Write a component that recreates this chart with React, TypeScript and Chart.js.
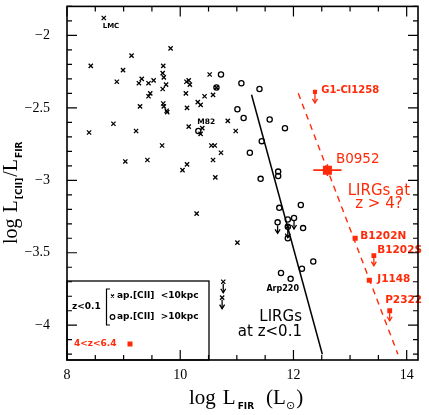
import React, { useEffect, useRef } from 'react';
import { Chart, registerables } from 'chart.js';
Chart.register(...registerables);

// ---------- data ----------
const X_MIN = 8;
const X_MAX = 14.2;
const Y_MIN = -4.24;
const Y_MAX = -1.8;

// local galaxies, aperture < 10 kpc (crosses)
const crossPts: number[][] = [
  [8.65, -1.88], [8.42, -2.21], [8.39, -2.67], [9.14, -2.14], [9.83, -2.09],
  [8.99, -2.24], [8.88, -2.32], [8.82, -2.61], [9.03, -2.87], [9.22, -2.66],
  [9.42, -2.86], [9.29, -2.49], [9.27, -2.33], [9.32, -2.30], [9.44, -2.33],
  [9.53, -2.31], [9.44, -2.42], [9.47, -2.40], [9.70, -2.21], [9.69, -2.26],
  [9.71, -2.29], [9.75, -2.34], [9.69, -2.37], [9.70, -2.47], [9.71, -2.49],
  [9.76, -2.52], [9.77, -2.53], [9.68, -2.76], [10.10, -2.40], [10.12, -2.50],
  [10.11, -2.32], [10.15, -2.31], [10.17, -2.34], [10.15, -2.63], [10.04, -2.93],
  [10.12, -2.89], [10.31, -2.46], [10.36, -2.48], [10.43, -2.42], [10.52, -2.27],
  [10.39, -2.64], [10.36, -2.68], [10.55, -2.76], [10.61, -2.76], [10.72, -2.81],
  [10.58, -2.86], [10.62, -2.98], [10.58, -2.41], [10.84, -2.59], [10.98, -2.66],
  [10.64, -2.36], [11.01, -3.43], [10.29, -3.23], [11.90, -3.32],
];
const crossLimitPts: number[][] = [[10.76, -3.70], [10.74, -3.81]];

// local galaxies, aperture > 10 kpc (circles)
const circlePts: number[][] = [
  [10.72, -2.27], [10.64, -2.36], [11.08, -2.33], [11.40, -2.37], [11.01, -2.51],
  [11.12, -2.57], [11.58, -2.58], [10.32, -2.66], [11.85, -2.64], [11.44, -2.73],
  [11.23, -2.81], [11.42, -2.99], [11.73, -2.94], [11.73, -2.97], [12.13, -3.17],
  [11.75, -3.19], [11.90, -3.27], [11.90, -3.40], [12.17, -3.33], [12.35, -3.56],
  [12.15, -3.61], [11.78, -3.64], [11.95, -3.68],
];
const circleLimitPts: number[][] = [[11.72, -3.29], [12.01, -3.26], [11.90, -3.32]];

// high-z sources (4 < z < 6.4)
const highZPts: number[][] = [[13.09, -3.40], [13.34, -3.69]];
const highZLimitPts: number[][] = [[13.42, -3.52], [13.70, -3.90]];
const g1Pt: number[][] = [[12.38, -2.39]];
const b0952Pt: number[][] = [[12.60, -2.93]];
const b0952XErr = 0.25;
const b0952YErr = 0.04;

// fitted relations
const lowZFit: number[][] = [[11.26, -2.41], [12.51, -4.20]];
const highZFit: number[][] = [[12.085, -2.40], [13.845, -4.20]];

const xTickValues = [8, 10, 12, 14];
const yTickValues = [-4, -3.5, -3, -2.5, -2];

const RED = 'rgb(255,42,8)';

const pts = (a: number[][]) => a.map(([x, y]) => ({ x, y }));

// annotation labels (data-anchored)
const annotations = [
  { text: 'LMC', x: 8.63, y: -1.936, font: 'bold 7px "DejaVu Sans"', color: '#000', align: 'left' },
  { text: 'M82', x: 10.30, y: -2.597, font: 'bold 7.5px "DejaVu Sans"', color: '#000', align: 'left' },
  { text: 'Arp220', x: 11.81, y: -3.75, font: 'bold 8px "DejaVu Sans"', color: '#000', align: 'center' },
  { text: 'G1-Cl1258', x: 12.49, y: -2.382, font: 'bold 10px "DejaVu Sans"', color: RED, align: 'left' },
  { text: 'B0952', x: 12.75, y: -2.854, font: '13.5px "DejaVu Sans"', color: RED, align: 'left' },
  { text: 'LIRGs at', x: 13.51, y: -3.075, font: '15px "DejaVu Sans"', color: RED, align: 'center' },
  { text: 'z > 4?', x: 13.51, y: -3.165, font: '15px "DejaVu Sans"', color: RED, align: 'center' },
  { text: 'B1202N', x: 13.18, y: -3.384, font: 'bold 10.5px "DejaVu Sans"', color: RED, align: 'left' },
  { text: 'B1202S', x: 13.48, y: -3.48, font: 'bold 10.5px "DejaVu Sans"', color: RED, align: 'left' },
  { text: 'J1148', x: 13.48, y: -3.68, font: 'bold 10.5px "DejaVu Sans"', color: RED, align: 'left' },
  { text: 'P2322', x: 13.62, y: -3.826, font: 'bold 10.5px "DejaVu Sans"', color: RED, align: 'left' },
  { text: 'LIRGs', x: 12.15, y: -3.945, font: '15px "DejaVu Sans"', color: '#000', align: 'right' },
  { text: 'at z<0.1', x: 12.15, y: -4.048, font: '15px "DejaVu Sans"', color: '#000', align: 'right' },
];

// ---------- helpers ----------
function arrowDown(ctx: CanvasRenderingContext2D, x: number, y0: number, y1: number) {
  ctx.beginPath();
  ctx.moveTo(x, y0);
  ctx.lineTo(x, y1);
  ctx.stroke();
  ctx.beginPath();
  ctx.moveTo(x - 2.5, y1 - 4);
  ctx.lineTo(x, y1);
  ctx.lineTo(x + 2.5, y1 - 4);
  ctx.stroke();
}

type Seg = { t: string; font: string; dy?: number; gap?: number };
function drawSegs(ctx: CanvasRenderingContext2D, segs: Seg[], x0: number, y0: number) {
  let x = x0;
  for (const s of segs) {
    x += s.gap || 0;
    ctx.font = s.font;
    ctx.fillText(s.t, x, y0 + (s.dy || 0));
    x += ctx.measureText(s.t).width;
  }
}

const decorPlugin = {
  id: 'decor',
  afterDatasetsDraw(chart: any) {
    const ctx: CanvasRenderingContext2D = chart.ctx;
    const { left, right, top, bottom } = chart.chartArea;
    const xs = chart.scales.x;
    const ys = chart.scales.y;
    ctx.save();

    // upper-limit arrows
    chart.data.datasets.forEach((ds: any, i: number) => {
      if (!ds.upperLimit) return;
      const meta = chart.getDatasetMeta(i);
      ctx.strokeStyle = ds.borderColor;
      ctx.lineWidth = 1.3;
      meta.data.forEach((el: any) => {
        arrowDown(ctx, el.x, el.y + ds.arrowStart, el.y + ds.arrowStart + ds.arrowLen);
      });
    });

    // error bars for B0952
    const bx = b0952Pt[0][0], by = b0952Pt[0][1];
    ctx.strokeStyle = RED;
    ctx.lineWidth = 1.6;
    ctx.beginPath();
    ctx.moveTo(xs.getPixelForValue(bx - b0952XErr), ys.getPixelForValue(by));
    ctx.lineTo(xs.getPixelForValue(bx + b0952XErr), ys.getPixelForValue(by));
    ctx.moveTo(xs.getPixelForValue(bx), ys.getPixelForValue(by - b0952YErr));
    ctx.lineTo(xs.getPixelForValue(bx), ys.getPixelForValue(by + b0952YErr));
    ctx.stroke();

    // annotations
    ctx.textBaseline = 'middle';
    for (const a of annotations) {
      ctx.font = a.font;
      ctx.fillStyle = a.color;
      ctx.textAlign = a.align as CanvasTextAlign;
      ctx.fillText(a.text, xs.getPixelForValue(a.x), ys.getPixelForValue(a.y));
    }

    // legend box
    const lbTop = 281, lbRight = 209;
    ctx.strokeStyle = '#000';
    ctx.lineWidth = 1.3;
    ctx.strokeRect(left, lbTop, lbRight - left, bottom - lbTop);
    ctx.fillStyle = '#000';
    ctx.textAlign = 'left';
    ctx.font = 'bold 9px "DejaVu Sans"';
    ctx.fillText('z<0.1', left + 5, 307);
    ctx.lineWidth = 1.2;
    ctx.beginPath();
    ctx.moveTo(110, 289);
    ctx.lineTo(106.5, 289);
    ctx.lineTo(106.5, 325);
    ctx.lineTo(110, 325);
    ctx.stroke();
    ctx.beginPath();
    ctx.moveTo(111, 294.5); ctx.lineTo(114, 297.5);
    ctx.moveTo(114, 294.5); ctx.lineTo(111, 297.5);
    ctx.stroke();
    ctx.fillText('ap.[CII]  <10kpc', 117, 296);
    ctx.beginPath();
    ctx.arc(112.5, 317, 2.3, 0, Math.PI * 2);
    ctx.stroke();
    ctx.fillText('ap.[CII]  >10kpc', 117, 317);
    ctx.fillStyle = RED;
    ctx.fillText('4<z<6.4', 74, 344);
    ctx.fillRect(127.5, 341.5, 5, 5);

    // ticks (inside) on all four sides
    ctx.strokeStyle = '#000';
    ctx.lineWidth = 1.2;
    ctx.beginPath();
    for (let k = 0; k <= 12; k++) {
      const v = X_MIN + k * 0.5;
      if (v > X_MAX + 1e-9) break;
      const px = xs.getPixelForValue(v);
      const len = k % 4 === 0 ? 10 : 5;
      ctx.moveTo(px, bottom); ctx.lineTo(px, bottom - len);
      ctx.moveTo(px, top); ctx.lineTo(px, top + len);
    }
    for (let k = -42; k <= -18; k++) {
      const v = k / 10;
      const py = ys.getPixelForValue(v);
      const len = k % 5 === 0 ? 10 : 5;
      ctx.moveTo(left, py); ctx.lineTo(left + len, py);
      ctx.moveTo(right, py); ctx.lineTo(right - len, py);
    }
    ctx.stroke();

    // frame
    ctx.lineWidth = 1.6;
    ctx.strokeRect(left, top, right - left, bottom - top);

    // axis titles
    ctx.fillStyle = '#000';
    ctx.textAlign = 'left';
    ctx.textBaseline = 'alphabetic';
    const serif = '21px "Liberation Serif"';
    const sub = 'bold 9px "DejaVu Sans"';
    drawSegs(ctx, [
      { t: 'log', font: serif },
      { t: 'L', font: serif, gap: 7 },
      { t: 'FIR', font: sub, dy: 5, gap: 2 },
      { t: '(L', font: serif, gap: 12 },
      { t: '⊙', font: '11px "DejaVu Sans"', dy: 5, gap: 0 },
      { t: ')', font: serif, gap: 1 },
    ], 189, 404);

    ctx.save();
    ctx.translate(17, 244);
    ctx.rotate(-Math.PI / 2);
    drawSegs(ctx, [
      { t: 'log', font: '20px "Liberation Serif"' },
      { t: 'L', font: '20px "Liberation Serif"', gap: 6 },
      { t: '[CII]', font: 'bold 9px "DejaVu Sans"', dy: 5, gap: 1 },
      { t: '/L', font: '20px "Liberation Serif"', gap: 1 },
      { t: 'FIR', font: sub, dy: 5, gap: 1 },
    ], 0, 0);
    ctx.restore();

    ctx.restore();
  },
};

export default function App() {
  const ref = useRef<HTMLCanvasElement>(null);
  useEffect(() => {
    const canvas = ref.current;
    if (!canvas) return;
    const chart = new Chart(canvas, {
      type: 'scatter',
      data: {
        datasets: [
          {
            data: pts(crossPts), pointStyle: 'crossRot', pointRadius: 3, borderColor: '#000',
            backgroundColor: '#000', pointBorderWidth: 1.3,
          },
          {
            data: pts(crossLimitPts), pointStyle: 'crossRot', pointRadius: 3, borderColor: '#000',
            backgroundColor: '#000', pointBorderWidth: 1.3,
            upperLimit: true, arrowStart: 2, arrowLen: 9,
          } as any,
          {
            data: pts(circlePts), pointStyle: 'circle', pointRadius: 2.6, borderColor: '#000',
            backgroundColor: 'rgba(0,0,0,0)', pointBorderWidth: 1.3,
          },
          {
            data: pts(circleLimitPts), pointStyle: 'circle', pointRadius: 2.6, borderColor: '#000',
            backgroundColor: 'rgba(0,0,0,0)', pointBorderWidth: 1.3,
            upperLimit: true, arrowStart: 3, arrowLen: 8,
          } as any,
          {
            data: pts(highZPts), pointStyle: 'rect', pointRadius: 3.6, borderColor: RED,
            backgroundColor: RED, pointBorderWidth: 0,
          },
          {
            data: pts(highZLimitPts), pointStyle: 'rect', pointRadius: 3.4, borderColor: RED,
            backgroundColor: RED, pointBorderWidth: 0,
            upperLimit: true, arrowStart: 0, arrowLen: 10,
          } as any,
          {
            data: pts(g1Pt), pointStyle: 'rect', pointRadius: 2.9, borderColor: RED,
            backgroundColor: RED, pointBorderWidth: 0,
            upperLimit: true, arrowStart: 0, arrowLen: 11,
          } as any,
          {
            data: pts(b0952Pt), pointStyle: 'rect', pointRadius: 6.4, borderColor: RED,
            backgroundColor: RED, pointBorderWidth: 0,
          },
          {
            type: 'line', data: pts(lowZFit), showLine: true, borderColor: '#000',
            borderWidth: 1.5, pointRadius: 0, fill: false,
          } as any,
          {
            type: 'line', data: pts(highZFit), showLine: true, borderColor: RED,
            borderWidth: 1.4, borderDash: [6, 5], pointRadius: 0, fill: false,
          } as any,
        ],
      },
      options: {
        responsive: false,
        animation: false,
        events: [],
        layout: { padding: { top: 4, right: 11, left: 0, bottom: 0 } },
        plugins: { legend: { display: false }, tooltip: { enabled: false } },
        scales: {
          x: {
            type: 'linear', min: X_MIN, max: X_MAX, position: 'bottom',
            afterFit: (s: any) => { s.height = 55; s.paddingLeft = 0; s.paddingRight = 0; },
            afterBuildTicks: (s: any) => { s.ticks = xTickValues.map((v) => ({ value: v })); },
            ticks: {
              color: '#000', padding: 7, maxRotation: 0, autoSkip: false,
              font: { family: 'Liberation Serif', size: 14 },
              callback: (v: any) => String(v),
            },
            grid: { display: false, drawTicks: false },
            border: { display: false },
          },
          y: {
            type: 'linear', min: Y_MIN, max: Y_MAX,
            afterFit: (s: any) => { s.width = 67; s.paddingTop = 0; s.paddingBottom = 0; },
            afterBuildTicks: (s: any) => { s.ticks = yTickValues.map((v) => ({ value: v })); },
            ticks: {
              color: '#000', padding: 17, autoSkip: false,
              font: { family: 'Liberation Serif', size: 14 },
              callback: (v: any) => (v < 0 ? '\u2212' : '') + String(Math.abs(v)),
            },
            grid: { display: false, drawTicks: false },
            border: { display: false },
          },
        },
      },
      plugins: [decorPlugin],
    });
    return () => chart.destroy();
  }, []);

  return (
    <div style={{ position: 'absolute', left: 0, top: 0, width: 429, height: 415, background: '#fff' }}>
      <canvas ref={ref} width={429} height={415} style={{ width: 429, height: 415, display: 'block' }} />
    </div>
  );
}
